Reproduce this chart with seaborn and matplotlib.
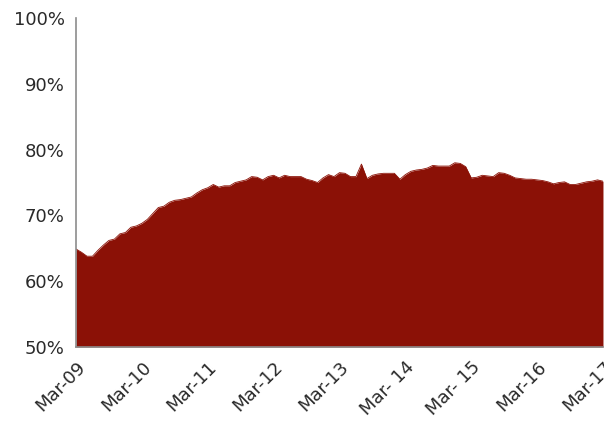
import matplotlib
matplotlib.use("Agg")
import matplotlib.pyplot as plt
import seaborn as sns
import numpy as np
import pandas as pd

# Monthly share, Mar-2009 .. Mar-2017 (percent)
share = [
    64.9, 64.4, 63.8, 63.8, 64.7, 65.5, 66.2, 66.4, 67.2, 67.4, 68.2, 68.4,   # 2009-10
    68.8, 69.4, 70.3, 71.2, 71.4, 72.0, 72.3, 72.4, 72.6, 72.8, 73.4, 73.9,   # 2010-11
    74.2, 74.7, 74.3, 74.5, 74.5, 75.0, 75.2, 75.4, 75.9, 75.8, 75.4, 75.9,   # 2011-12
    76.1, 75.7, 76.1, 75.9, 75.9, 75.9, 75.5, 75.3, 75.0, 75.7, 76.2, 75.9,   # 2012-13
    76.5, 76.4, 75.9, 75.9, 77.8, 75.6, 76.1, 76.3, 76.4, 76.4, 76.4, 75.5,   # 2013-14
    76.2, 76.7, 76.9, 77.0, 77.2, 77.6, 77.5, 77.5, 77.5, 78.0, 77.9, 77.4,   # 2014-15
    75.7, 75.8, 76.1, 76.0, 75.9, 76.5, 76.4, 76.1, 75.7, 75.6, 75.5, 75.5,   # 2015-16
    75.4, 75.3, 75.1, 74.8, 75.0, 75.1, 74.7, 74.7, 74.9, 75.1, 75.2, 75.4,   # 2016-17
    75.2,
]
tick_labels = ["Mar-09", "Mar-10", "Mar-11", "Mar-12", "Mar-13",
               "Mar- 14", "Mar- 15", "Mar-16", "Mar-17"]
y_ticks = [50, 60, 70, 80, 90, 100]

df = pd.DataFrame({"month": np.arange(len(share)), "share": share})

sns.set_style("white")
plt.rcParams["font.family"] = ["DejaVu Sans"]

fill_color = "#8b1106"
axis_color = "#8c8c8c"

fig = plt.figure(figsize=(6.04, 4.24), dpi=100)
ax = fig.add_axes([0.1258, 0.1816, 0.8725, 0.7759])

sns.lineplot(data=df, x="month", y="share", ax=ax, color=fill_color, linewidth=0.6)
ax.fill_between(df["month"], 50, df["share"], color=fill_color, linewidth=0)

ax.set_xlim(0, len(share) - 1)
ax.set_ylim(50, 100)
ax.set_xticks(np.arange(0, len(share), 12))
ax.set_xticklabels(tick_labels, rotation=45, ha="right", rotation_mode="anchor")
ax.set_yticks(y_ticks)
ax.set_yticklabels([f"{v}%" for v in y_ticks])
ax.set_xlabel("")
ax.set_ylabel("")

for side in ("top", "right"):
    ax.spines[side].set_visible(False)
for side in ("left", "bottom"):
    ax.spines[side].set_color(axis_color)
    ax.spines[side].set_linewidth(1.2)

ax.tick_params(axis="both", which="major", direction="out", length=5,
               width=1.2, color=axis_color, labelsize=13, labelcolor="#2a2a2a")
ax.tick_params(axis="y", pad=3)
ax.tick_params(axis="x", pad=3)
ax.grid(False)

fig.savefig("out.png", dpi=100)
